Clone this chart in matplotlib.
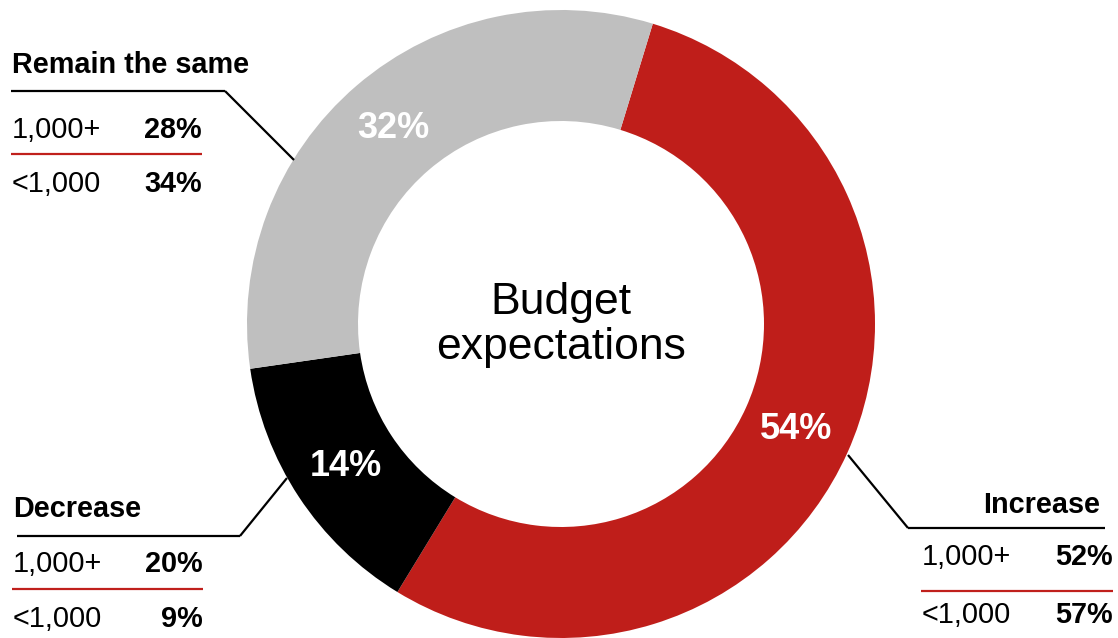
import matplotlib
matplotlib.use("Agg")
import matplotlib.pyplot as plt

# ---- data ----
categories = ["Increase", "Decrease", "Remain the same"]
overall = [54, 14, 32]
large_orgs = [52, 20, 28]      # 1,000+
small_orgs = [57, 9, 34]       # <1,000
row_labels = ["1,000+", "<1,000"]
colors = ["#BF1E1A", "#000000", "#BFBFBF"]
center_title = "Budget\nexpectations"

plt.rcParams['font.family'] = ['Liberation Sans', 'DejaVu Sans']

W, H = 1118, 638
fig = plt.figure(figsize=(W / 100, H / 100), dpi=100)
ax = fig.add_axes([0, 0, 1, 1])

def Y(y):
    return H - y

cx, cy = 561, Y(324)
R_out, R_in = 314, 203

wedges, texts, autotexts = ax.pie(
    overall, colors=colors, startangle=73, counterclock=False,
    center=(cx, cy), radius=R_out,
    wedgeprops=dict(width=R_out - R_in, linewidth=0),
    autopct=lambda p: f"{p:.0f}%", pctdistance=258 / R_out,
    textprops=dict(color="white", fontsize=26, fontweight="bold"))
for t in autotexts:
    t.set_va("center")
    t.set_ha("center")

ax.set_xlim(0, W)
ax.set_ylim(0, H)
ax.set_aspect("equal")
ax.axis("off")

ax.text(cx, Y(325), center_title, ha="center", va="center", fontsize=32,
        linespacing=1.12, color="black")

FS = 20.8
RED = "#C0201C"

def block(title, vals, left, right, title_x, title_base, title_align, line_y, line_x0, line_x1,
          diag_from, diag_to, row1_base, red_y, row2_base):
    ax.text(title_x, Y(title_base), title, ha=title_align, va="baseline",
            fontsize=FS, fontweight="bold")
    ax.plot([line_x0, line_x1], [Y(line_y), Y(line_y)], color="black", lw=1.6,
            solid_capstyle="butt")
    ax.plot([diag_from[0], diag_to[0]], [Y(diag_from[1]), Y(diag_to[1])],
            color="black", lw=1.6, solid_capstyle="butt")
    ax.text(left, Y(row1_base), row_labels[0], ha="left", va="baseline", fontsize=FS)
    ax.text(right, Y(row1_base), f"{vals[0]}%", ha="right", va="baseline",
            fontsize=FS, fontweight="bold")
    ax.plot([left - 1, right], [Y(red_y), Y(red_y)], color=RED, lw=1.6,
            solid_capstyle="butt")
    ax.text(left, Y(row2_base), row_labels[1], ha="left", va="baseline", fontsize=FS)
    ax.text(right, Y(row2_base), f"{vals[1]}%", ha="right", va="baseline",
            fontsize=FS, fontweight="bold")

# Remain the same
block(categories[2], [large_orgs[2], small_orgs[2]], 12, 202, 12, 73, "left",
      91, 11, 225, (225, 91), (294, 160), 138, 154, 192)
# Decrease
block(categories[1], [large_orgs[1], small_orgs[1]], 13, 203, 13, 517, "left",
      536, 17, 240, (240, 536), (287, 478), 572, 589, 627)
# Increase
block(categories[0], [large_orgs[0], small_orgs[0]], 922, 1113, 1100, 513, "right",
      528, 908, 1105, (908, 528), (848, 455), 565, 591, 623)

fig.savefig("out.png", dpi=100)
